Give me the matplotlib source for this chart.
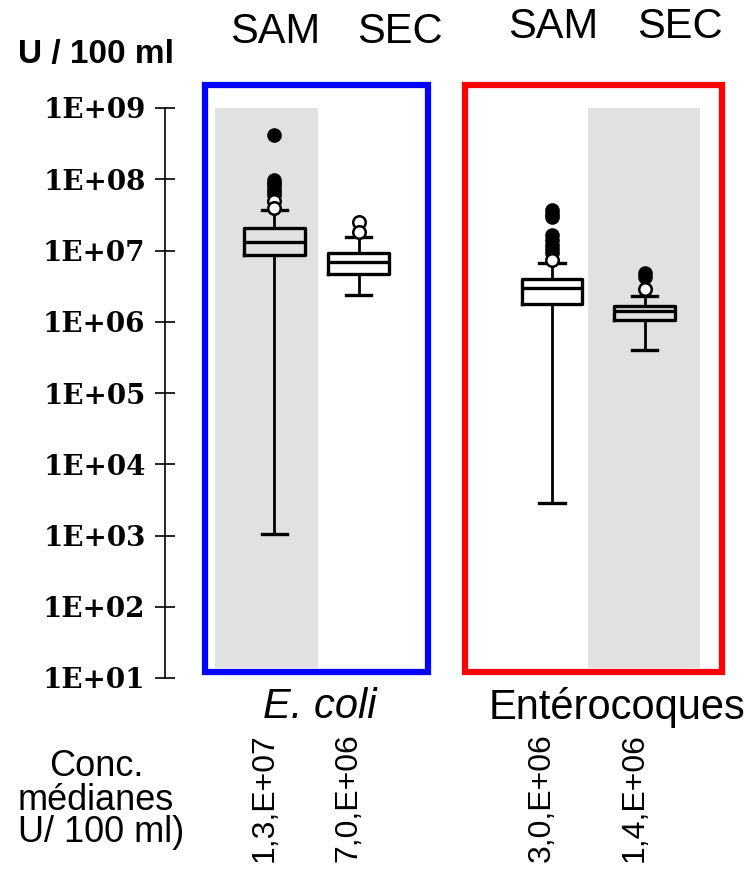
import matplotlib
matplotlib.use("Agg")
import matplotlib.pyplot as plt
import matplotlib.transforms as mtransforms
from matplotlib.patches import Rectangle

# box statistics per group (UFC / 100 ml)
groups   = ["E. coli SAM", "E. coli SEC", "Ent SAM", "Ent SEC"]
medians  = [1.3e7, 7.0e6, 3.0e6, 1.4e6]
q1       = [8.65e6, 4.7e6, 1.8e6, 1.06e6]
q3       = [2.07e7, 9.2e6, 4.0e6, 1.66e6]
whis_lo  = [1.05e3, 2.4e6, 2.9e3, 4.0e5]
whis_hi  = [3.7e7, 1.56e7, 6.7e6, 2.3e6]

# outliers: extremes (filled) and moderate (open)
far_out = [
    [4.2e8, 9.8e7, 9.0e7, 8.2e7, 7.4e7, 6.6e7, 6.0e7],
    [],
    [3.7e7, 3.3e7, 3.0e7, 1.65e7, 1.4e7, 1.2e7, 1.05e7, 9.2e6],
    [4.8e6, 4.2e6],
]
near_out = [
    [5.0e7, 4.0e7],
    [2.5e7, 1.8e7],
    [7.4e6],
    [2.9e6],
]

ytick_vals = [1e1, 1e2, 1e3, 1e4, 1e5, 1e6, 1e7, 1e8, 1e9]
ytick_labels = ["1E+01", "1E+02", "1E+03", "1E+04", "1E+05",
                "1E+06", "1E+07", "1E+08", "1E+09"]

positions = [1.3, 2.3, 4.6, 5.7]
W, H = 754, 876


def fx(px):
    return px / W


def fy(py):
    return 1 - py / H


def median_label(v):
    exp = len(str(int(v))) - 1
    mant = v / 10 ** exp
    return f"{mant:.1f}".replace(".", ",") + f",E+{exp:02d}"


fig = plt.figure(figsize=(W / 100, H / 100), dpi=100)
ax = fig.add_axes([fx(165), fy(678), fx(754 - 165), 570 / H])
ax.set_yscale("log")
ax.set_ylim(1e1, 1e9)
ax.set_xlim(0, 7)

# grey shading behind one column per panel
for x0, x1 in [(0.594, 1.818), (5.027, 6.358)]:
    ax.add_patch(Rectangle((x0, 10 ** 1.14), x1 - x0, 1e9 - 10 ** 1.14,
                           facecolor="#e1e1e1", edgecolor="none", zorder=0))

stats = []
for i in range(len(groups)):
    stats.append({"med": medians[i], "q1": q1[i], "q3": q3[i],
                  "whislo": whis_lo[i], "whishi": whis_hi[i],
                  "fliers": [], "label": groups[i]})

lw = 2.4
ax.bxp(stats, positions=positions, widths=0.72, capwidths=0.3,
       showfliers=False, patch_artist=False,
       boxprops=dict(color="black", linewidth=lw),
       medianprops=dict(color="black", linewidth=lw),
       whiskerprops=dict(color="black", linewidth=2.0),
       capprops=dict(color="black", linewidth=lw))

for pos, pts in zip(positions, far_out):
    if pts:
        ax.plot([pos] * len(pts), pts, "o", color="black", markersize=9.5,
                zorder=4, clip_on=False)
for pos, pts in zip(positions, near_out):
    ax.plot([pos] * len(pts), pts, "o", markerfacecolor="white",
            markeredgecolor="black", markeredgewidth=1.8, markersize=9,
            zorder=5, clip_on=False)

# panel frames
frames = [(0.475, 3.126, "#0000ff"), (3.565, 6.62, "#ff0000")]
for x0, x1, c in frames:
    ax.add_patch(Rectangle((x0, 10 ** 1.084), x1 - x0,
                           10 ** 9.323 - 10 ** 1.084,
                           facecolor="none", edgecolor=c, linewidth=4.5,
                           clip_on=False, zorder=6))

ax.set_yticks(ytick_vals)
ax.set_yticklabels(ytick_labels)
ax.minorticks_off()
ax.tick_params(axis="y", direction="inout", length=14, width=1.2, pad=7,
               labelsize=20)
for lab in ax.get_yticklabels():
    lab.set_fontfamily("DejaVu Serif")
    lab.set_fontweight("bold")
ax.set_xticks([])
for s in ["top", "right", "bottom"]:
    ax.spines[s].set_visible(False)
ax.spines["left"].set_linewidth(1.2)
ax.patch.set_alpha(0)

# headers
for x, y, t in [(275, 32, "SAM"), (400, 32, "SEC"),
                (553, 27, "SAM"), (680, 27, "SEC")]:
    fig.text(fx(x), fy(y), t, ha="center", va="center", fontsize=30,
             family="Liberation Sans")

fig.text(fx(18), fy(55), "U / 100 ml", ha="left", va="center", fontsize=24,
         fontweight="bold", family="Liberation Sans")

fig.text(fx(320), fy(707), "E. coli", ha="center", va="center", fontsize=30,
         style="italic", family="Liberation Sans")
fig.text(fx(617), fy(707), "Entérocoques", ha="center", va="center",
         fontsize=30, family="Liberation Sans")

fig.text(fx(96), fy(766), "Conc.", ha="center", va="center", fontsize=26,
         family="Liberation Sans")
fig.text(fx(96), fy(800), "médianes", ha="center", va="center", fontsize=26,
         family="Liberation Sans")
fig.text(fx(18), fy(833), "U/ 100 ml)", ha="left", va="center", fontsize=26,
         family="Liberation Sans")

# medians written vertically under each box
blend = mtransforms.blended_transform_factory(ax.transData, fig.transFigure)
for pos, v in zip(positions, medians):
    ax.text(pos - 0.12, fy(862), median_label(v), rotation=90, ha="center",
            va="bottom", fontsize=23, family="Liberation Sans",
            transform=blend)

fig.savefig("out.png", dpi=100)
